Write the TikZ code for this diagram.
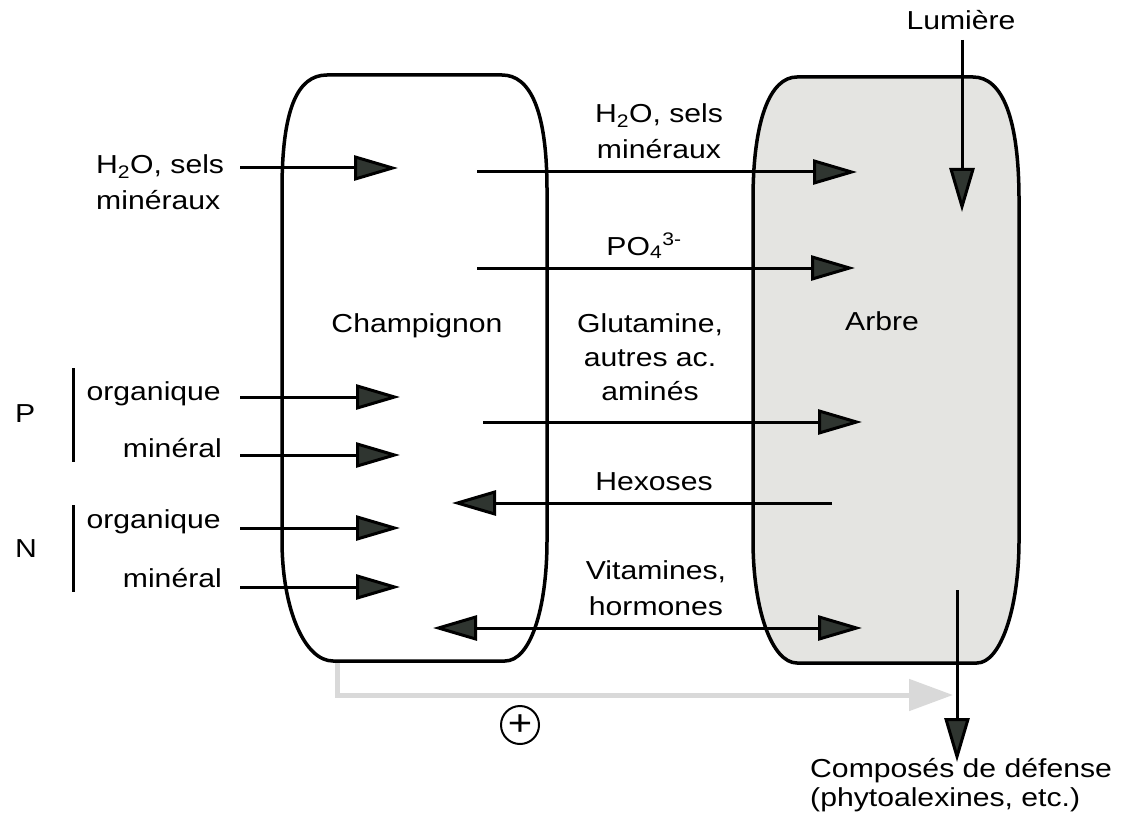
\documentclass[tikz,border=0pt]{standalone}
\usepackage{fontspec}
\setmainfont{Liberation Sans}[FakeStretch=1.16]
\usepackage{xcolor}
\usepackage{tikz}
\usetikzlibrary{arrows.meta}
\definecolor{tipgray}{HTML}{2F3530}
\definecolor{treefill}{HTML}{E4E4E1}
\definecolor{paleline}{HTML}{D9D9D9}

\begin{document}
\begin{tikzpicture}[x=1pt, y=-1pt,
    font=\fontsize{26}{36}\selectfont,
    txt/.style={inner sep=0pt, align=center},
    outline/.style={line width=3.5pt, draw=black},
    arrow/.style={-{Triangle[length=44pt, width=25pt, fill=tipgray]}, line width=3pt},
    twoway/.style={{Triangle[length=44pt, width=25pt, fill=tipgray]}-{Triangle[length=44pt, width=25pt, fill=tipgray]},
                   line width=3pt},
    feedback/.style={-{Triangle[length=44pt, width=31pt]}, line width=5pt, draw=paleline}
  ]
    \useasboundingbox (0,0) rectangle (1121,829);

    % fungus and tree
    \draw[outline] (327,75) -- (502,75) .. controls (530,75) and (547,110) .. (547,190)
      -- (547,540) .. controls (547,610) and (530,661) .. (505,661)
      -- (333,661) .. controls (305,661) and (282,610) .. (282,540)
      -- (282,190) .. controls (282,110) and (297,75) .. (327,75) -- cycle;
    \draw[outline, fill=treefill] (797,77) -- (973,77) .. controls (1003,77) and (1019,120) .. (1019,200)
      -- (1019,540) .. controls (1019,610) and (1000,663) .. (977,663)
      -- (797,663) .. controls (772,663) and (753,610) .. (753,540)
      -- (753,200) .. controls (753,120) and (770,77) .. (797,77) -- cycle;

    \node[txt, anchor=base] (fungus) at (417,332) {Champignon};
    \node[txt, anchor=base] (tree)   at (882,330) {Arbre};

    % soil inputs
    \node[txt, anchor=base west, align=left] (waterin) at (96,210) {H\textsubscript{2}O, sels\\minéraux};
    \node[txt, anchor=base west] (phos)  at (15,422) {P};
    \node[txt, anchor=base west] (nitro) at (15,557) {N};
    \node[txt, anchor=base east] (porg) at (221,400) {organique};
    \node[txt, anchor=base east] (pmin) at (222,457) {minéral};
    \node[txt, anchor=base east] (norg) at (221,528) {organique};
    \node[txt, anchor=base east] (nmin) at (222,587) {minéral};

    \coordinate (pbartop) at (73,368);
    \coordinate (pbarbot) at (73,462);
    \coordinate (nbartop) at (73,505);
    \coordinate (nbarbot) at (73,592);
    \draw[line width=3pt] (pbartop) -- (pbarbot);
    \draw[line width=3pt] (nbartop) -- (nbarbot);

    \coordinate (waterinA) at (240,168);
    \coordinate (waterinB) at (398,168);
    \coordinate (porgA) at (240,397);
    \coordinate (porgB) at (400,397);
    \coordinate (pminA) at (240,455);
    \coordinate (pminB) at (400,455);
    \coordinate (norgA) at (240,528);
    \coordinate (norgB) at (400,528);
    \coordinate (nminA) at (240,587);
    \coordinate (nminB) at (400,587);
    \draw[arrow] (waterinA) -- (waterinB);
    \draw[arrow] (porgA) -- (porgB);
    \draw[arrow] (pminA) -- (pminB);
    \draw[arrow] (norgA) -- (norgB);
    \draw[arrow] (nminA) -- (nminB);

    % exchanges between fungus and tree
    \node[txt, anchor=base] (waterout) at (659,159) {H\textsubscript{2}O, sels\\minéraux};
    \node[txt, anchor=base] (phosout)  at (644,255) {PO\textsubscript{4}\textsuperscript{3-}};
    \node[txt, anchor=base, font=\fontsize{26}{34}\selectfont] (amino) at (650,400) {Glutamine,\\autres ac.\\aminés};
    \node[txt, anchor=base] (sugar)    at (654,490) {Hexoses};
    \node[txt, anchor=base] (vitamin)  at (656,615) {Vitamines,\\hormones};

    \coordinate (waterA) at (477,172);
    \coordinate (waterB) at (857,172);
    \coordinate (phosA)  at (477,268);
    \coordinate (phosB)  at (855,268);
    \coordinate (aminoA) at (483,422);
    \coordinate (aminoB) at (862,422);
    \coordinate (sugarA) at (832,503);
    \coordinate (sugarB) at (452,503);
    \coordinate (vitA)   at (433,628);
    \coordinate (vitB)   at (862,628);
    \draw[arrow] (waterA) -- (waterB);
    \draw[arrow] (phosA) -- (phosB);
    \draw[arrow] (aminoA) -- (aminoB);
    \draw[arrow] (sugarA) -- (sugarB);
    \draw[twoway] (vitA) -- (vitB);

    % light and defence
    \node[txt, anchor=base] (light) at (961,30) {Lumière};
    \coordinate (lightA) at (962,40);
    \coordinate (lightB) at (962,212);
    \draw[arrow] (lightA) -- (lightB);

    \node[txt, anchor=base west, align=left, font=\fontsize{26}{29}\selectfont] (defence) at (810,806)
      {Composés de défense\\(phytoalexines, etc.)};
    \coordinate (defA) at (957,590);
    \coordinate (defB) at (957,762);

    % stimulation
    \coordinate (fbA) at (337,663);
    \coordinate (fbB) at (953,695);
    \draw[feedback] (fbA) |- (fbB);
    \draw[arrow] (defA) -- (defB);
    \node[circle, draw, line width=2pt, minimum size=38pt, inner sep=0pt,
          font=\fontsize{36}{36}\selectfont] (plus) at (520,725) {+};
\end{tikzpicture}
\end{document}
